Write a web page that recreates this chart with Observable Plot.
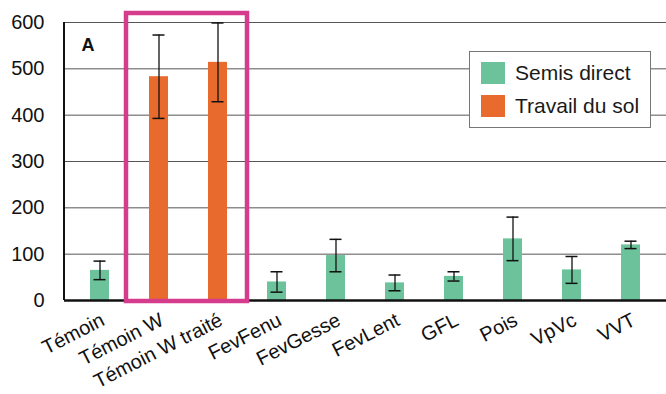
<!DOCTYPE html>
<html>
<head>
<meta charset="utf-8">
<script src="https://cdn.jsdelivr.net/npm/d3@7"></script>
<script src="https://cdn.jsdelivr.net/npm/@observablehq/plot@0.6"></script>
<style>
  body { margin: 0; background: #fff; }
  #wrap { position: relative; width: 666px; height: 394px; overflow: hidden; font-family: "Liberation Sans", Arial, sans-serif; }
  #legend { position: absolute; left: 469px; top: 51px; width: 182px; height: 77px; border: 1px solid #777; background: #fff; box-sizing: border-box; }
  .row { position: absolute; left: 11px; display: flex; align-items: center; }
  .sw { width: 24px; height: 22px; margin-right: 10px; }
  .lab { font-size: 21px; color: #1a1a1a; line-height: 22px; }
</style>
</head>
<body>
<div id="wrap"></div>
<script>
const categories = ["Témoin", "Témoin W", "Témoin W traité", "FevFenu", "FevGesse", "FevLent", "GFL", "Pois", "VpVc", "VVT"];
const values     = [65, 483, 514, 40, 97, 38, 52, 133, 66, 120];
const errors     = [20, 90, 85, 22, 35, 17, 10, 47, 29, 8];
const treatment  = ["Semis direct", "Travail du sol", "Travail du sol", "Semis direct", "Semis direct", "Semis direct", "Semis direct", "Semis direct", "Semis direct", "Semis direct"];
const seriesNames = ["Semis direct", "Travail du sol"];
const seriesColors = ["#6cc39b", "#e86a2c"];
const highlighted = ["Témoin W", "Témoin W traité"];
const yTicks = [0, 100, 200, 300, 400, 500, 600];
const panelLabel = "A";

const data = categories.map((c, i) => ({cat: c, v: values[i], lo: values[i] - errors[i], hi: values[i] + errors[i], t: treatment[i]}));

function decorations(index, scales, values, dims) {
  const x = scales.x, y = scales.y;
  const g = d3.create("svg:g");
  const bw = x.bandwidth ? x.bandwidth() : 19;
  const step = x.step ? x.step() : 60;
  const gap = (step - bw) / 2;
  g.append("line")
    .attr("x1", dims.marginLeft).attr("x2", dims.marginLeft)
    .attr("y1", y(0)).attr("y2", y(600))
    .attr("stroke", "#111").attr("stroke-width", 2);
  const x0 = x(highlighted[0]) - gap - 3;
  const x1 = x(highlighted[highlighted.length - 1]) + bw + gap + 0;
  g.append("rect")
    .attr("x", x0).attr("y", dims.marginTop - 9)
    .attr("width", x1 - x0).attr("height", y(0) + 1 - (dims.marginTop - 9))
    .attr("fill", "none").attr("stroke", "#d63c8e").attr("stroke-width", 4.5);
  return g.node();
}

const plot = Plot.plot({
  width: 666,
  height: 394,
  marginLeft: 64,
  marginRight: 0,
  marginTop: 22,
  marginBottom: 94,
  style: {fontFamily: "Liberation Sans, Arial, sans-serif", background: "transparent"},
  x: {domain: categories, paddingInner: 0.68, paddingOuter: 0.37, label: null, axis: null},
  y: {domain: [0, 600], label: null},
  color: {domain: seriesNames, range: seriesColors},
  marks: [
    Plot.gridY(yTicks, {stroke: "#555", strokeOpacity: 1, strokeWidth: 1}),
    Plot.axisY({ticks: yTicks, tickSize: 0, tickPadding: 20, fontSize: 20, fill: "#111", label: null}),
    Plot.text(categories, {x: d => d, y: () => 0, dy: 24, dx: 6, rotate: -27, textAnchor: "end", lineAnchor: "bottom", fontSize: 20, fill: "#111"}),
    Plot.barY(data, {x: "cat", y: "v", fill: "t"}),
    Plot.ruleX(data, {x: "cat", y1: "lo", y2: "hi", stroke: "#111", strokeWidth: 1.3}),
    Plot.tickY(data, {x: "cat", y: "lo", stroke: "#111", strokeWidth: 1.5, insetLeft: 3.5, insetRight: 3.5}),
    Plot.tickY(data, {x: "cat", y: "hi", stroke: "#111", strokeWidth: 1.5, insetLeft: 3.5, insetRight: 3.5}),
    Plot.ruleY([0], {stroke: "#111", strokeWidth: 2.5}),
    decorations,
    Plot.text([panelLabel], {frameAnchor: "top-left", dx: 17, dy: 16, fontSize: 18, fontWeight: "bold", fill: "#111", textAnchor: "start", lineAnchor: "top"})
  ]
});

const wrap = document.getElementById("wrap");
wrap.appendChild(plot);

const legend = document.createElement("div");
legend.id = "legend";
seriesNames.forEach((name, i) => {
  const row = document.createElement("div");
  row.className = "row";
  row.style.top = (10 + i * 33) + "px";
  const sw = document.createElement("div");
  sw.className = "sw";
  sw.style.background = seriesColors[i];
  const lab = document.createElement("div");
  lab.className = "lab";
  lab.textContent = name;
  row.appendChild(sw);
  row.appendChild(lab);
  legend.appendChild(row);
});
wrap.appendChild(legend);
</script>
</body>
</html>
